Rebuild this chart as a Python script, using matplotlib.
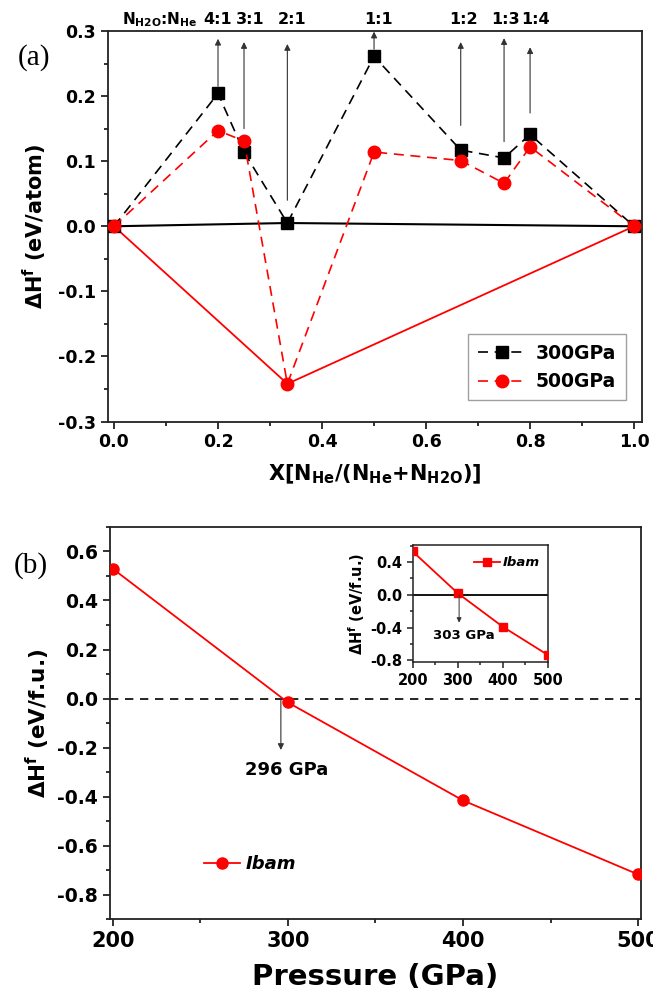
import matplotlib
matplotlib.use("Agg")
import matplotlib.pyplot as plt
from matplotlib.ticker import MultipleLocator, FormatStrFormatter

# ---------------- data ----------------
x_comp = [0.0, 0.2, 0.25, 1/3, 0.5, 2/3, 0.75, 0.8, 1.0]
h300 = [0.0, 0.204, 0.114, 0.005, 0.261, 0.117, 0.105, 0.141, 0.0]
h500 = [0.0, 0.147, 0.131, -0.242, 0.114, 0.101, 0.066, 0.122, 0.0]
hull_x = [0.0, 1/3, 1.0]
hull300 = [0.0, 0.005, 0.0]
hull500 = [0.0, -0.242, 0.0]

ratio_labels = ["4:1", "3:1", "2:1", "1:1", "1:2", "1:3", "1:4"]
ratio_x = [0.2, 0.25, 1/3, 0.5, 2/3, 0.75, 0.8]
arrow_bottom = [0.215, 0.15, 0.04, 0.272, 0.155, 0.13, 0.174]
arrow_top = [0.288, 0.283, 0.28, 0.299, 0.283, 0.289, 0.275]
label_dx = [0.0, 0.012, 0.01, 0.008, 0.006, 0.002, 0.01]

pressure = [200, 300, 400, 500]
h_ibam = [0.53, -0.016, -0.416, -0.718]
h_ibam_inset = [0.53, 0.02, -0.39, -0.735]

plt.rcParams['font.family'] = ['DejaVu Sans']
plt.rcParams['font.weight'] = 'bold'
plt.rcParams['axes.labelweight'] = 'bold'
plt.rcParams['mathtext.fontset'] = 'dejavusans'
plt.rcParams['mathtext.default'] = 'bf'
plt.rcParams['axes.unicode_minus'] = False

fig = plt.figure(figsize=(6.53, 9.99), dpi=100)

def style_axes(ax, tsize, xsize=None, major=5, minor=3, lw=1.3):
    for s in ax.spines.values():
        s.set_linewidth(lw)
        s.set_color('#222222')
    ax.tick_params(which='both', direction='out', top=False, right=False, width=lw, color='#222222')
    ax.tick_params(which='major', length=major)
    ax.tick_params(which='minor', length=minor)
    ax.tick_params(axis='y', labelsize=tsize)
    ax.tick_params(axis='x', labelsize=xsize if xsize else tsize)
    for lab in ax.get_xticklabels() + ax.get_yticklabels():
        lab.set_fontweight('bold')

# ---------------- panel (a) ----------------
axa = fig.add_axes([0.165, 0.578, 0.818, 0.391])
axa.plot(hull_x, hull300, '-', color='black', lw=1.5, zorder=2)
axa.plot(hull_x, hull500, '-', color='red', lw=1.3, zorder=2)
l300, = axa.plot(x_comp, h300, '--', color='black', lw=1.2, marker='s', ms=8,
                 dashes=(6, 4), label='300GPa', zorder=3)
l500, = axa.plot(x_comp, h500, '--', color='red', lw=1.2, marker='o', ms=9,
                 dashes=(6, 4), label='500GPa', zorder=4)
axa.set_xlim(-0.012, 1.015)
axa.set_ylim(-0.3, 0.3)
axa.xaxis.set_major_locator(MultipleLocator(0.2))
axa.xaxis.set_minor_locator(MultipleLocator(0.1))
axa.yaxis.set_major_locator(MultipleLocator(0.1))
axa.yaxis.set_minor_locator(MultipleLocator(0.05))
axa.yaxis.set_major_formatter(FormatStrFormatter('%.1f'))
axa.xaxis.set_major_formatter(FormatStrFormatter('%.1f'))
style_axes(axa, 12.5)

for xv, yb, yt in zip(ratio_x, arrow_bottom, arrow_top):
    axa.annotate('', xy=(xv, yt), xytext=(xv, yb),
                 arrowprops=dict(arrowstyle='-|>', color='#333333', lw=0.8,
                                 mutation_scale=9, shrinkA=0, shrinkB=0))
for lab, xv, dx in zip(ratio_labels, ratio_x, label_dx):
    axa.text(xv + dx, 0.318, lab, ha='center', va='center', fontsize=11.5,
             fontweight='bold')
axa.text(0.088, 0.318, r'N$_{H2O}$:N$_{He}$', ha='center', va='center',
         fontsize=11, fontweight='bold')

axa.set_xlabel(r'X[N$_{He}$/(N$_{He}$+N$_{H2O}$)]', fontsize=15, labelpad=8)
axa.set_ylabel(r'$\Delta$H$^f$ (eV/atom)', fontsize=15, labelpad=6)
leg = axa.legend(handles=[l300, l500], loc='lower right',
                 bbox_to_anchor=(0.987, 0.03), fontsize=13.5, frameon=True,
                 fancybox=False, edgecolor='#888888', handlelength=2.6,
                 borderpad=0.5, labelspacing=0.5, handletextpad=0.5)
leg.get_frame().set_linewidth(1.0)
fig.text(0.052, 0.942, '(a)', family='Liberation Serif', fontsize=21,
         fontweight='normal', ha='center', va='center')

# ---------------- panel (b) ----------------
axb = fig.add_axes([0.168, 0.080, 0.814, 0.3925])
axb.axhline(0.0, color='black', lw=1.2, ls=(0, (5, 4)), zorder=1)
lib, = axb.plot(pressure, h_ibam, '-', color='red', lw=1.3, marker='o', ms=8,
                label='Ibam', zorder=3)
axb.set_xlim(198.3, 501.7)
axb.set_ylim(-0.9, 0.7)
axb.xaxis.set_major_locator(MultipleLocator(100))
axb.xaxis.set_minor_locator(MultipleLocator(50))
axb.yaxis.set_major_locator(MultipleLocator(0.2))
axb.yaxis.set_minor_locator(MultipleLocator(0.1))
axb.yaxis.set_major_formatter(FormatStrFormatter('%.1f'))
style_axes(axb, 13.5, xsize=15)
axb.set_xlabel('Pressure (GPa)', fontsize=21, labelpad=9)
axb.set_ylabel(r'$\Delta$H$^f$ (eV/f.u.)', fontsize=15.5, labelpad=4)
axb.annotate('', xy=(296, -0.21), xytext=(296, 0.0),
             arrowprops=dict(arrowstyle='-|>', color='#333333', lw=0.8,
                             mutation_scale=9, shrinkA=0, shrinkB=0))
axb.text(299, -0.29, '296 GPa', ha='center', va='center', fontsize=13,
         fontweight='bold')
legb = axb.legend(handles=[lib], loc='center left', bbox_to_anchor=(0.147, 0.14),
                  frameon=False, handlelength=2.0, handletextpad=0.3,
                  prop=dict(size=13, weight='bold', style='italic'))
fig.text(0.047, 0.434, '(b)', family='Liberation Serif', fontsize=21,
         fontweight='normal', ha='center', va='center')

# ---------------- inset ----------------
axi = fig.add_axes([0.632, 0.337, 0.207, 0.1175])
axi.axhline(0.0, color='black', lw=1.3, zorder=1)
lin, = axi.plot(pressure, h_ibam_inset, '-', color='red', lw=1.3, marker='s',
                ms=6, label='Ibam', zorder=3)
axi.set_xlim(200, 500)
axi.set_ylim(-0.825, 0.61)
axi.xaxis.set_major_locator(MultipleLocator(100))
axi.xaxis.set_minor_locator(MultipleLocator(50))
axi.yaxis.set_major_locator(MultipleLocator(0.4))
axi.yaxis.set_minor_locator(MultipleLocator(0.2))
axi.yaxis.set_major_formatter(FormatStrFormatter('%.1f'))
style_axes(axi, 10.5, major=4, minor=2.5, lw=1.1)
axi.set_ylabel(r'$\Delta$H$^f$ (eV/f.u.)', fontsize=10.5, labelpad=2)
axi.annotate('', xy=(303, -0.34), xytext=(303, 0.0),
             arrowprops=dict(arrowstyle='-|>', color='#333333', lw=0.7,
                             mutation_scale=7, shrinkA=0, shrinkB=0))
axi.text(313, -0.5, '303 GPa', ha='center', va='center', fontsize=9.5,
         fontweight='bold')
axi.legend(handles=[lin], loc='upper right', bbox_to_anchor=(1.0, 0.97),
           frameon=False, handlelength=2.0, handletextpad=0.2,
           borderaxespad=0.2, prop=dict(size=9.5, weight='bold', style='italic'))

fig.savefig('out.png', dpi=100)
